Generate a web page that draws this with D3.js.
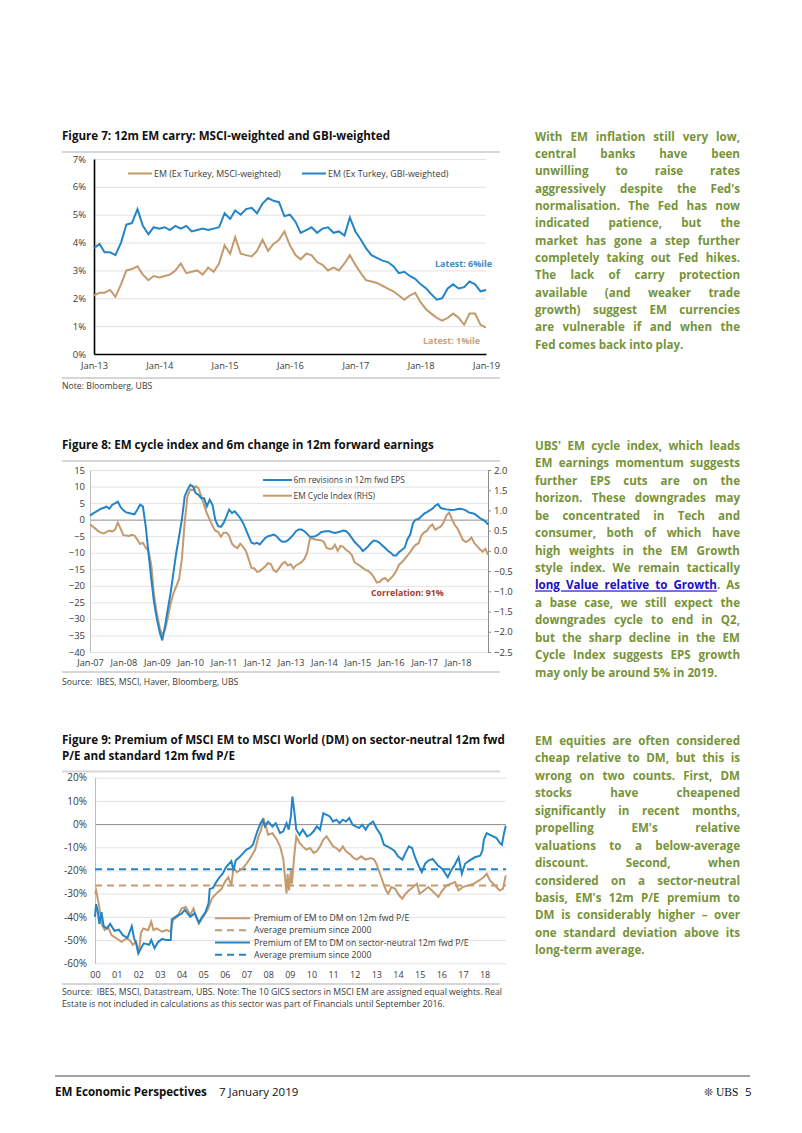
<!DOCTYPE html>
<html><head><meta charset="utf-8">
<script src="https://cdn.jsdelivr.net/npm/d3@7/dist/d3.min.js"></script>
<style>
body{margin:0;background:#fff;}
svg{display:block;font-family:"Open Sans",sans-serif;}
.ax text{fill:#3a3a3a;font-family:"Open Sans",sans-serif;}
</style></head><body>
<svg id="c" width="802" height="1133"></svg>
<script>
// ---------------- DATA ----------------
// Figure 7: monthly, Jan-13 .. Jan-19 (%)
const fig7Start = "2013-01";
const fig7Msci = [2.1,2.2,2.2,2.3,2.05,2.5,3.0,3.05,3.15,2.85,2.65,2.8,
  2.75,2.8,2.85,3.0,3.25,2.9,2.95,3.0,2.85,3.1,2.95,3.25,
  3.9,3.6,4.2,3.6,3.55,3.5,3.7,4.1,3.7,3.95,4.1,4.4,
  3.9,3.55,3.4,3.6,3.55,3.3,3.2,3.0,3.1,3.0,3.25,3.55,
  3.2,2.9,2.65,2.6,2.55,2.45,2.35,2.25,2.1,1.95,2.1,2.2,
  1.85,1.6,1.45,1.3,1.2,1.3,1.45,1.3,1.05,1.45,1.45,1.05,0.95];
const fig7Gbi = [3.8,3.95,3.65,3.65,3.55,4.0,4.65,4.7,5.2,4.6,4.3,4.55,
  4.5,4.55,4.45,4.6,4.5,4.6,4.4,4.45,4.5,4.45,4.5,4.55,
  5.05,4.85,5.15,5.0,5.2,5.25,5.05,5.4,5.6,5.5,5.45,4.95,
  5.0,4.75,4.35,4.45,4.55,4.35,4.5,4.55,4.35,4.4,4.25,4.9,
  4.4,4.1,3.8,3.55,3.45,3.35,3.3,3.15,2.9,2.95,2.8,2.7,
  2.5,2.35,2.15,1.95,2.0,2.35,2.5,2.35,2.4,2.6,2.5,2.25,2.3];
const fig7YTicks = [0,1,2,3,4,5,6,7];
const fig7Legend = ["EM (Ex Turkey, MSCI-weighted)","EM (Ex Turkey, GBI-weighted)"];

// Figure 8: monthly, Jan-07 .. Dec-18
const fig8Start = "2007-01";
const fig8Eps = [1.2,1.8,2.3,2.8,3.3,3.6,3.9,3.3,4.5,4.9,5.4,3.8,
  2.8,2.2,2.0,1.8,1.6,3.0,4.5,4.0,-2,-10,-18,-25,
  -30,-34,-36.5,-32,-27,-22,-16,-10,-5,0,7,9,
  10.5,10,8,7.5,6.5,6.5,4,6,4.5,0,-2,-2.2,
  -1,1,3,2,2.5,1.5,0.5,-1,-3,-5,-7,-7.3,
  -7,-7.5,-6.5,-5.5,-5,-4.8,-4.5,-5,-6,-6.7,-6.7,-6.3,
  -5.5,-4.5,-3.5,-3,-3,-3.5,-4.3,-5.2,-5.2,-5,-4.5,-3.8,
  -3.6,-3.5,-3.5,-3.8,-4,-3.8,-3.6,-3.3,-3.5,-4.3,-5.5,-6.7,
  -7.6,-8.4,-9.5,-8.8,-8,-7,-6.3,-6.5,-7,-7.8,-8.6,-9.4,
  -10,-10.8,-10.8,-9.8,-9.2,-8.5,-6,-4.5,-1,0,0.2,1,
  1.8,2.3,2.8,3.3,4.2,4.7,3.5,3.3,3.1,3.0,2.9,3.0,
  3.2,3.3,3.1,2.8,2.2,2.0,1.8,1.2,0.5,0,-0.5,-1.5];
const fig8Cycle = [0.66,0.6,0.55,0.49,0.45,0.43,0.47,0.5,0.48,0.52,0.7,0.55,
  0.39,0.38,0.37,0.4,0.38,0.28,0.17,0.2,0.08,0.0,-0.35,-1.1,
  -1.55,-1.9,-2.08,-1.95,-1.65,-1.3,-1.05,-0.88,-0.7,-0.2,0.7,1.35,
  1.52,1.5,1.6,1.55,1.35,1.13,0.93,0.78,0.62,0.5,0.47,0.35,
  0.45,0.45,0.38,0.18,0.11,0.07,0.18,0.1,0.0,-0.2,-0.42,-0.43,
  -0.52,-0.5,-0.44,-0.38,-0.3,-0.33,-0.48,-0.52,-0.42,-0.32,-0.27,-0.36,
  -0.33,-0.43,-0.36,-0.32,-0.28,-0.2,-0.05,0.31,0.3,0.28,0.27,0.26,
  0.22,0.07,0.05,0.05,0.15,0.0,0.12,0.1,0.02,-0.02,-0.1,-0.28,
  -0.33,-0.37,-0.42,-0.47,-0.5,-0.56,-0.65,-0.78,-0.77,-0.7,-0.67,-0.75,
  -0.68,-0.6,-0.5,-0.34,-0.28,-0.2,-0.12,-0.03,0.08,0.15,0.19,0.38,
  0.46,0.5,0.6,0.65,0.52,0.57,0.6,0.7,0.88,0.95,0.78,0.64,
  0.55,0.4,0.27,0.22,0.25,0.33,0.2,0.12,0.04,-0.02,0.05,-0.1];
const fig8LeftTicks = [15,10,5,0,-5,-10,-15,-20,-25,-30,-35,-40];
const fig8RightTicks = [2.0,1.5,1.0,0.5,0.0,-0.5,-1.0,-1.5,-2.0,-2.5];
const fig8Legend = ["6m revisions in 12m fwd EPS","EM Cycle Index (RHS)"];

// Figure 9: [year, premium %]
const fig9Std = [[2000.0,-30],[2000.05,-28.6],[2000.2,-35.7],[2000.3,-43],[2000.45,-45.7],[2000.6,-44.3],[2000.77,-47.9],[2001.0,-49.3],[2001.23,-50.7],[2001.45,-49.3],[2001.6,-50],[2001.75,-52],[2001.9,-50.7],[2002.03,-55.7],[2002.12,-47],[2002.23,-45],[2002.45,-45.7],[2002.6,-42.1],[2002.7,-45.7],[2002.85,-45],[2003.1,-46.4],[2003.3,-45.7],[2003.5,-46.4],[2003.6,-41.4],[2003.8,-40],[2004.0,-36.4],[2004.2,-35.7],[2004.4,-39.3],[2004.55,-36.4],[2004.8,-42.9],[2005.0,-40],[2005.2,-37.1],[2005.4,-32.1],[2005.6,-30],[2005.85,-27.9],[2006.0,-25],[2006.16,-22.9],[2006.3,-26.4],[2006.4,-18.6],[2006.55,-20.7],[2006.8,-19.3],[2007.0,-17.1],[2007.2,-14.3],[2007.4,-11],[2007.55,-5.3],[2007.68,-2.4],[2007.78,2.6],[2007.9,-1],[2008.0,-4.6],[2008.2,-3.9],[2008.4,-6.7],[2008.55,-9.6],[2008.7,-15],[2008.85,-30],[2008.9,-21.4],[2008.97,-28.6],[2009.05,-20],[2009.1,-25.7],[2009.2,-14.3],[2009.3,-5.3],[2009.45,-8.1],[2009.6,-9.6],[2009.75,-11],[2009.94,-10.3],[2010.1,-12.4],[2010.25,-11.7],[2010.4,-9.6],[2010.55,-6.7],[2010.7,-5.3],[2010.85,-7.4],[2011.0,-9.6],[2011.15,-10.3],[2011.3,-11.7],[2011.45,-9.6],[2011.6,-11.7],[2011.8,-13.1],[2011.95,-14.6],[2012.1,-15.3],[2012.3,-13.9],[2012.5,-15.3],[2012.75,-14.6],[2012.9,-15.3],[2013.0,-17.1],[2013.17,-21.4],[2013.33,-25.7],[2013.45,-28.6],[2013.55,-30],[2013.7,-27.1],[2013.87,-27.9],[2014.05,-30.7],[2014.2,-32.1],[2014.35,-30],[2014.5,-28.6],[2014.7,-27.1],[2014.87,-25.7],[2015.0,-30],[2015.2,-28.6],[2015.4,-27.1],[2015.64,-29.3],[2015.87,-31.4],[2016.0,-29.3],[2016.25,-26.4],[2016.45,-25.7],[2016.64,-25],[2016.8,-28.6],[2017.0,-27.1],[2017.25,-26.4],[2017.5,-25.7],[2017.75,-24.3],[2017.95,-22.9],[2018.1,-21.4],[2018.25,-24.3],[2018.4,-25.7],[2018.55,-27.1],[2018.7,-28.6],[2018.85,-27.9],[2018.98,-22.1]];
const fig9Sector = [[2000.0,-40],[2000.05,-34.5],[2000.12,-37],[2000.2,-43],[2000.3,-38],[2000.4,-44],[2000.55,-45],[2000.7,-43],[2000.9,-46],[2001.1,-45.5],[2001.3,-48],[2001.5,-49],[2001.7,-44],[2001.8,-49],[2001.9,-51.4],[2002.0,-55.7],[2002.1,-54],[2002.25,-51.4],[2002.5,-52],[2002.6,-50],[2002.75,-53.5],[2002.9,-51],[2003.1,-49.5],[2003.3,-50],[2003.5,-50],[2003.55,-41],[2003.8,-39.5],[2004.0,-38.6],[2004.15,-37],[2004.4,-40],[2004.6,-38.5],[2004.8,-42.5],[2004.95,-40],[2005.1,-38],[2005.25,-34],[2005.3,-28],[2005.45,-27.5],[2005.6,-25],[2005.75,-23],[2005.9,-21.4],[2006.05,-18.6],[2006.3,-16],[2006.4,-20],[2006.5,-15.7],[2006.7,-14],[2006.85,-12.5],[2007.0,-11],[2007.15,-10.3],[2007.3,-8.9],[2007.5,-3.1],[2007.65,0.4],[2007.75,1.9],[2007.85,-1],[2008.0,1.1],[2008.2,-1],[2008.35,0.4],[2008.55,-3.9],[2008.7,-3.1],[2008.85,0.4],[2008.95,-2.4],[2009.05,3.3],[2009.12,11.9],[2009.2,6.1],[2009.3,-2.4],[2009.45,-4.6],[2009.6,-2.4],[2009.8,-5.3],[2009.95,-4.6],[2010.1,-3.1],[2010.25,-1],[2010.4,-2.4],[2010.55,4.7],[2010.7,4],[2010.85,3.3],[2011.0,1.1],[2011.15,1.9],[2011.3,0.4],[2011.45,1.9],[2011.6,1.1],[2011.75,2.6],[2011.9,-0.3],[2012.05,-1],[2012.2,-1.7],[2012.35,-0.3],[2012.5,-2.4],[2012.65,-0.3],[2012.85,1.1],[2013.0,-1.7],[2013.2,-4.6],[2013.35,-8.9],[2013.5,-9.6],[2013.65,-10.3],[2013.85,-11.7],[2014.0,-13.9],[2014.2,-15.3],[2014.35,-12.4],[2014.5,-9.6],[2014.65,-10.3],[2014.8,-14.6],[2014.95,-17.9],[2015.1,-20.7],[2015.25,-17.1],[2015.4,-15.7],[2015.6,-15],[2015.85,-17.9],[2016.05,-19.3],[2016.3,-22.9],[2016.45,-20],[2016.6,-17.9],[2016.8,-14.3],[2016.95,-21.4],[2017.1,-17.1],[2017.3,-15.7],[2017.55,-14.3],[2017.8,-13.6],[2017.9,-11.4],[2017.97,-6.7],[2018.1,-3.9],[2018.25,-4.6],[2018.4,-5.3],[2018.55,-6],[2018.7,-8.1],[2018.8,-8.9],[2018.9,-3.9],[2018.98,-0.7]];
const fig9StdAvg = -26.5;
const fig9SectorAvg = -19.5;
const fig9YTicks = [20,10,0,-10,-20,-30,-40,-50,-60];
const fig9XTicks = [2000,2001,2002,2003,2004,2005,2006,2007,2008,2009,2010,2011,2012,2013,2014,2015,2016,2017,2018];
const fig9Legend = ["Premium of EM to DM on 12m fwd P/E","Average premium since 2000","Premium of EM to DM on sector-neutral 12m fwd P/E","Average premium since 2000"];

// ---------------- STYLE ----------------
const BLUE = "#2385c6", BROWN = "#c49a6e", GRID = "#e2e2e2", SEP = "#d6d6d6";
const TEXTG = "#779438";
const SMALL = 8.7;
const svg = d3.select("#c");
const parseM = d3.timeParse("%Y-%m");

function text(x, y, s, o = {}) {
  return svg.append("text").attr("x", x).attr("y", y).text(s)
    .attr("font-size", o.size || 9).attr("font-weight", o.weight || 400)
    .attr("fill", o.fill || "#3a3a3a").attr("text-anchor", o.anchor || "start")
    .attr("font-family", o.family || "'Open Sans',sans-serif")
    .style("white-space", "pre");
}
function sep(y) {
  svg.append("line").attr("x1", 62).attr("x2", 500).attr("y1", y).attr("y2", y)
    .attr("stroke", SEP).attr("stroke-width", 2);
}
function styleAxis(g, size) { g.attr("class", "ax"); g.selectAll(".tick line").remove(); g.selectAll("text").attr("font-size", size); }

// ---------------- FIGURE 7 ----------------
text(62, 139.5, "Figure 7: 12m EM carry: MSCI-weighted and GBI-weighted", {size: 11.6, weight: 700, fill: "#111"});
sep(152);
{
  const t0 = parseM(fig7Start);
  const x = d3.scaleTime().domain([t0, d3.timeMonth.offset(t0, 72)]).range([94, 486]);
  const y = d3.scaleLinear().domain([0, 7]).range([354, 159]);
  svg.append("g").attr("transform", "translate(94,0)")
    .call(d3.axisLeft(y).tickValues(fig7YTicks).tickSize(-392).tickFormat(""))
    .call(g => { g.select(".domain").remove(); g.selectAll("line").attr("stroke", GRID); });
  const ya = svg.append("g").attr("transform", "translate(94,0)")
    .call(d3.axisLeft(y).tickValues(fig7YTicks).tickSize(0).tickPadding(8).tickFormat(d => d + "%"));
  styleAxis(ya, 9.5); ya.select(".domain").attr("stroke", "#000").attr("stroke-width", 1.6);
  const xa = svg.append("g").attr("transform", "translate(0,354)")
    .call(d3.axisBottom(x).ticks(d3.timeYear.every(1)).tickSize(0).tickPadding(8).tickFormat(d3.timeFormat("%b-%y")));
  styleAxis(xa, 9.3); xa.select(".domain").attr("stroke", "#000").attr("stroke-width", 1.6);
  const line = d3.line().x((d, i) => x(d3.timeMonth.offset(t0, i))).y(d => y(d));
  svg.append("path").datum(fig7Msci).attr("d", line).attr("fill", "none").attr("stroke", BROWN).attr("stroke-width", 2);
  svg.append("path").datum(fig7Gbi).attr("d", line).attr("fill", "none").attr("stroke", BLUE).attr("stroke-width", 2);
  [[128, BROWN, fig7Legend[0]], [302, BLUE, fig7Legend[1]]].forEach(([lx, c, s]) => {
    svg.append("line").attr("x1", lx).attr("x2", lx + 24).attr("y1", 173.5).attr("y2", 173.5).attr("stroke", c).attr("stroke-width", 2);
    text(lx + 26, 176.6, s, {size: 8.9});
  });
  text(435, 266.5, "Latest: 6%ile", {size: 9, weight: 700, fill: "#3a8cc6"});
  text(423, 344, "Latest: 1%ile", {size: 9, weight: 700, fill: "#c9a27c"});
}
sep(378);
text(62, 389, "Note: Bloomberg, UBS", {size: SMALL});

// ---------------- FIGURE 8 ----------------
text(62, 449.3, "Figure 8: EM cycle index and 6m change in 12m forward earnings", {size: 11.6, weight: 700, fill: "#111"});
sep(461);
{
  const t0 = parseM(fig8Start);
  const x = d3.scaleTime().domain([t0, d3.timeMonth.offset(t0, 144)]).range([90, 491]);
  const yL = d3.scaleLinear().domain([-40, 15]).range([652, 470]);
  const yR = d3.scaleLinear().domain([-2.5, 2.0]).range([652, 470]);
  svg.append("g").attr("transform", "translate(90,0)")
    .call(d3.axisLeft(yL).tickValues(fig8LeftTicks).tickSize(-398).tickFormat(""))
    .call(g => { g.select(".domain").remove(); g.selectAll("line").attr("stroke", d => d === 0 ? "#8c8c8c" : GRID); });
  const ya = svg.append("g").attr("transform", "translate(90,0)")
    .call(d3.axisLeft(yL).tickValues(fig8LeftTicks).tickSize(0).tickPadding(5).tickSizeOuter(0));
  styleAxis(ya, 9.5); ya.select(".domain").attr("stroke", "#bdbdbd");
  const yr = svg.append("g").attr("transform", "translate(488,0)")
    .call(d3.axisRight(yR).tickValues(fig8RightTicks).tickSize(3).tickPadding(3).tickSizeOuter(0).tickFormat(d3.format(".1f")));
  yr.attr("class", "ax"); yr.selectAll("text").attr("font-size", 9.5);
  yr.select(".domain").attr("stroke", "#8c8c8c"); yr.selectAll(".tick line").attr("stroke", "#8c8c8c");
  const xa = svg.append("g").attr("transform", "translate(0,652)")
    .call(d3.axisBottom(x).tickValues(d3.timeYear.range(t0, d3.timeMonth.offset(t0, 143))).tickSize(0).tickPadding(7.5).tickFormat(d3.timeFormat("%b-%y")));
  styleAxis(xa, 9.2); xa.select(".domain").remove();
  const lineL = d3.line().x((d, i) => x(d3.timeMonth.offset(t0, i))).y(d => yL(d));
  const lineR = d3.line().x((d, i) => x(d3.timeMonth.offset(t0, i))).y(d => yR(d));
  svg.append("path").datum(fig8Cycle).attr("d", lineR).attr("fill", "none").attr("stroke", BROWN).attr("stroke-width", 2);
  svg.append("path").datum(fig8Eps).attr("d", lineL).attr("fill", "none").attr("stroke", BLUE).attr("stroke-width", 2);
  [[480, BLUE, fig8Legend[0]], [495.7, BROWN, fig8Legend[1]]].forEach(([ly, c, s]) => {
    svg.append("line").attr("x1", 263).attr("x2", 292).attr("y1", ly).attr("y2", ly).attr("stroke", c).attr("stroke-width", 2);
    text(293.5, ly + 3, s, {size: 8.4});
  });
  text(371, 596, "Correlation: 91%", {size: 8.8, weight: 700, fill: "#a63b30"});
}
sep(672);
text(62, 684.5, "Source:  IBES, MSCI, Haver, Bloomberg, UBS", {size: SMALL});

// ---------------- FIGURE 9 ----------------
text(62, 744, "Figure 9: Premium of MSCI EM to MSCI World (DM) on sector-neutral 12m fwd", {size: 11.6, weight: 700, fill: "#111"});
text(62, 760, "P/E and standard 12m fwd P/E", {size: 11.6, weight: 700, fill: "#111"});
sep(771.5);
{
  const x = d3.scaleLinear().domain([2000, 2019]).range([95, 506.2]);
  const y = d3.scaleLinear().domain([-60, 20]).range([963.3, 777.7]);
  svg.append("g").attr("transform", "translate(95,0)")
    .call(d3.axisLeft(y).tickValues(fig9YTicks).tickSize(-411).tickFormat(""))
    .call(g => { g.select(".domain").remove(); g.selectAll("line").attr("stroke", d => d === 0 ? "#8c8c8c" : GRID); });
  const ya = svg.append("g").attr("transform", "translate(95,0)")
    .call(d3.axisLeft(y).tickValues(fig9YTicks).tickSize(0).tickPadding(8).tickSizeOuter(0).tickFormat(d => d + "%"));
  styleAxis(ya, 10); ya.select(".domain").attr("stroke", "#bdbdbd");
  const xa = svg.append("g").attr("transform", "translate(0,963.3)")
    .call(d3.axisBottom(x).tickValues(fig9XTicks).tickSize(0).tickPadding(8).tickFormat(d => d3.format("02d")(d % 100)));
  styleAxis(xa, 9); xa.select(".domain").remove();
  svg.append("line").attr("x1", 95).attr("x2", 506).attr("y1", y(fig9StdAvg)).attr("y2", y(fig9StdAvg))
    .attr("stroke", BROWN).attr("stroke-width", 2).attr("stroke-dasharray", "7,5");
  svg.append("line").attr("x1", 95).attr("x2", 506).attr("y1", y(fig9SectorAvg)).attr("y2", y(fig9SectorAvg))
    .attr("stroke", BLUE).attr("stroke-width", 2).attr("stroke-dasharray", "7,5");
  const line = d3.line().x(d => x(d[0])).y(d => y(d[1]));
  svg.append("path").datum(fig9Std).attr("d", line).attr("fill", "none").attr("stroke", BROWN).attr("stroke-width", 2);
  svg.append("path").datum(fig9Sector).attr("d", line).attr("fill", "none").attr("stroke", BLUE).attr("stroke-width", 2);
  const legY = [918.3, 930.3, 942.5, 954.7];
  const legC = [BROWN, BROWN, BLUE, BLUE];
  const legDash = [null, "7,5", null, "7,5"];
  fig9Legend.forEach((s, i) => {
    svg.append("line").attr("x1", 215).attr("x2", 250).attr("y1", legY[i]).attr("y2", legY[i])
      .attr("stroke", legC[i]).attr("stroke-width", 2).attr("stroke-dasharray", legDash[i]);
    text(254, legY[i] + 3, s, {size: 8.7});
  });
}
sep(984);
text(62, 995, "Source:  IBES, MSCI, Datastream, UBS. Note: The 10 GICS sectors in MSCI EM are assigned equal weights. Real", {size: SMALL});
text(62, 1007, "Estate is not included in calculations as this sector was part of Financials until September 2016.", {size: SMALL});

// ---------------- PARAGRAPHS ----------------
const para1 = ["With EM inflation still very low,", "central banks have been", "unwilling to raise rates", "aggressively despite the Fed's",
  "normalisation. The Fed has now", "indicated patience, but the", "market has gone a step further", "completely taking out Fed hikes.",
  "The lack of carry protection", "available (and weaker trade", "growth) suggest EM currencies", "are vulnerable if and when the",
  "Fed comes back into play."];
const para2 = ["UBS' EM cycle index, which leads", "EM earnings momentum suggests", "further EPS cuts are on the", "horizon. These downgrades may",
  "be concentrated in Tech and", "consumer, both of which have", "high weights in the EM Growth", "style index. We remain tactically",
  "[long Value relative to Growth]. As", "a base case, we still expect the", "downgrades cycle to end in Q2,", "but the sharp decline in the EM",
  "Cycle Index suggests EPS growth", "may only be around 5% in 2019."];
const para3 = ["EM equities are often considered", "cheap relative to DM, but this is", "wrong on two counts. First, DM", "stocks have cheapened",
  "significantly in recent months,", "propelling EM's relative", "valuations to a below-average", "discount. Second, when",
  "considered on a sector-neutral", "basis, EM's 12m P/E premium to", "DM is considerably higher – over", "one standard deviation above its",
  "long-term average."];
function para(lines, y0, lh) {
  const W = 205, X = 535;
  lines.forEach((ln, i) => {
    const t = svg.append("text").attr("x", X).attr("y", y0 + i * lh)
      .attr("font-size", 11.6).attr("font-weight", 700).attr("fill", TEXTG);
    const m = ln.match(/^\[(.*)\](.*)$/);
    if (m) {
      t.append("tspan").text(m[1]).attr("fill", "#1a0dcc").attr("text-decoration", "underline");
      t.append("tspan").text(m[2]);
    } else t.text(ln);
    if (i < lines.length - 1) {
      const w = t.node().getComputedTextLength();
      const n = (ln.match(/ /g) || []).length;
      if (n > 0) t.attr("word-spacing", (W - w) / n);
    }
  });
}
para(para1, 140.7, 17.33);
para(para2, 450, 17.43);
para(para3, 745, 17.44);

// ---------------- FOOTER ----------------
svg.append("line").attr("x1", 55).attr("x2", 750).attr("y1", 1076).attr("y2", 1076).attr("stroke", "#444").attr("stroke-width", 1);
text(55, 1096, "EM Economic Perspectives", {size: 11.6, weight: 700, fill: "#111"});
text(219, 1096, "7 January 2019", {size: 11.5, fill: "#111"});
text(704, 1096, "❊", {size: 11, fill: "#222", family: "'DejaVu Sans',sans-serif"});
text(716, 1096, "UBS", {size: 11.5, fill: "#111", family: "'Liberation Serif',serif"});
text(745, 1096, "5", {size: 11.5, fill: "#111"});
</script>
</body></html>
